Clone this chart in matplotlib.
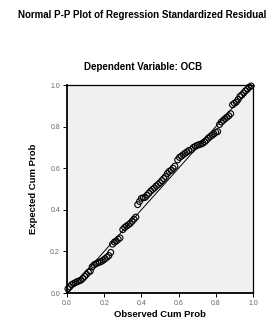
import matplotlib
matplotlib.use('Agg')
import matplotlib.pyplot as plt

# P-P plot values
observed = [0.005, 0.015, 0.025, 0.035, 0.045, 0.055, 0.065, 0.075, 0.085, 0.095,
            0.105, 0.115, 0.125, 0.135, 0.145, 0.155, 0.165, 0.175, 0.185, 0.195,
            0.205, 0.215, 0.225, 0.235, 0.245, 0.255, 0.265, 0.275, 0.285, 0.300,
            0.310, 0.320, 0.330, 0.340, 0.350, 0.360, 0.370, 0.380, 0.390, 0.400,
            0.410, 0.420, 0.430, 0.440, 0.450, 0.460, 0.470, 0.480, 0.490, 0.500,
            0.510, 0.520, 0.530, 0.540, 0.550, 0.560, 0.570, 0.580, 0.595, 0.605,
            0.615, 0.625, 0.635, 0.645, 0.655, 0.670, 0.680, 0.690, 0.700, 0.710,
            0.720, 0.730, 0.740, 0.750, 0.760, 0.770, 0.780, 0.790, 0.800, 0.810,
            0.820, 0.830, 0.840, 0.850, 0.860, 0.870, 0.880, 0.890, 0.900, 0.910,
            0.920, 0.930, 0.940, 0.950, 0.960, 0.970, 0.980, 0.990]
expected = [0.020, 0.030, 0.040, 0.045, 0.050, 0.055, 0.058, 0.062, 0.070, 0.080,
            0.090, 0.100, 0.105, 0.125, 0.135, 0.140, 0.145, 0.148, 0.152, 0.158,
            0.165, 0.172, 0.180, 0.195, 0.235, 0.245, 0.250, 0.258, 0.265, 0.305,
            0.315, 0.322, 0.328, 0.335, 0.345, 0.355, 0.365, 0.425, 0.440, 0.455,
            0.458, 0.460, 0.470, 0.480, 0.490, 0.498, 0.505, 0.515, 0.522, 0.530,
            0.540, 0.550, 0.560, 0.575, 0.585, 0.590, 0.600, 0.610, 0.640, 0.652,
            0.658, 0.665, 0.672, 0.678, 0.685, 0.690, 0.700, 0.705, 0.710, 0.713,
            0.716, 0.720, 0.727, 0.735, 0.745, 0.752, 0.758, 0.765, 0.772, 0.776,
            0.810, 0.822, 0.830, 0.838, 0.845, 0.852, 0.862, 0.905, 0.912, 0.918,
            0.930, 0.945, 0.952, 0.962, 0.972, 0.980, 0.990, 0.995]
ref_line = [0.0, 1.0]
tick_vals = [0.0, 0.2, 0.4, 0.6, 0.8, 1.0]
tick_labels = ['0.0', '0.2', '0.4', '0.6', '0.8', '1.0']

plt.rcParams['font.family'] = ['Liberation Sans', 'DejaVu Sans']

fig = plt.figure(figsize=(2.72, 3.21), dpi=100)
ax = fig.add_axes([67/272, 28/321, 186/272, 208/321])
ax.set_facecolor('#f0f0f0')

ax.plot(ref_line, ref_line, color='black', lw=0.7, zorder=2)
ax.scatter(observed, expected, s=18, facecolors='none', edgecolors='black',
           linewidths=0.8, zorder=3, clip_on=False)

ax.set_xlim(0, 1)
ax.set_ylim(0, 1)
ax.set_xticks(tick_vals)
ax.set_xticklabels(tick_labels)
ax.set_yticks(tick_vals)
ax.set_yticklabels(tick_labels)
ax.tick_params(length=3, width=0.7, labelsize=5, labelcolor='#666666', pad=2)
for sp in ax.spines.values():
    sp.set_linewidth(0.9)
ax.spines['left'].set_linewidth(1.3)
ax.spines['bottom'].set_linewidth(1.3)

ax.set_xlabel('Observed Cum Prob', fontsize=6.8, fontweight='bold', labelpad=2)
ax.set_ylabel('Expected Cum Prob', fontsize=6.8, fontweight='bold', labelpad=9)

fig.text(142/272, 1 - 15/321, 'Normal P-P Plot of Regression Standardized Residual',
         ha='center', va='center', fontsize=7, fontweight='bold')
fig.text(143/272, 1 - 67/321, 'Dependent Variable: OCB',
         ha='center', va='center', fontsize=7, fontweight='bold')

fig.savefig('out.png', dpi=100)
